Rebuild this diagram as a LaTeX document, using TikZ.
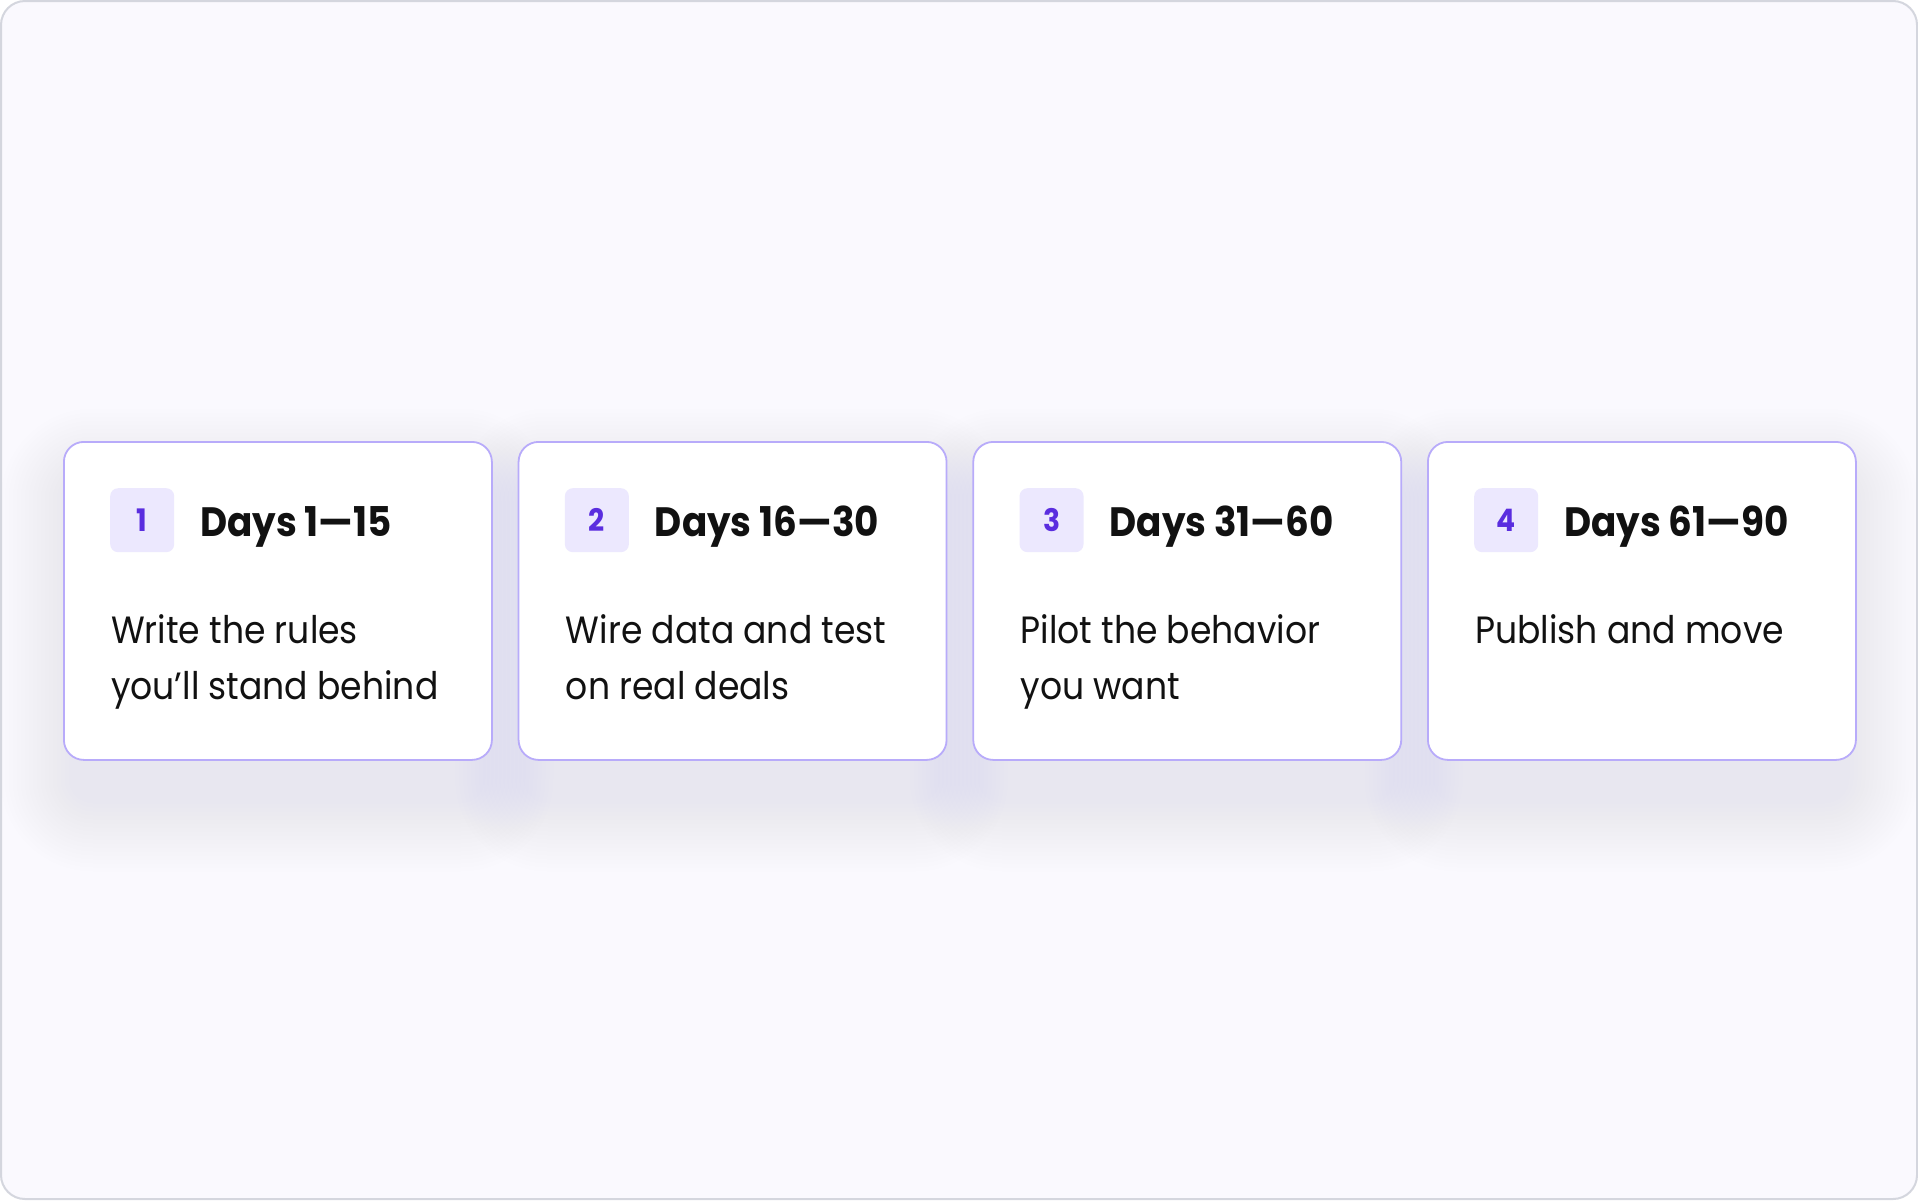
\documentclass[tikz,border=0pt]{standalone}
\usepackage{fontspec}
\setmainfont{Poppins}[FakeStretch=0.91]
\usetikzlibrary{positioning}

\definecolor{framec}{HTML}{D4D6DE}
\definecolor{pagebg}{HTML}{FAF9FE}
\definecolor{cardline}{HTML}{B8ABFA}
\definecolor{badgefill}{HTML}{ECE8FE}
\definecolor{numc}{HTML}{5A2DDF}
\definecolor{shadowc}{HTML}{D9D2F0}
\definecolor{inkc}{HTML}{111111}

\begin{document}
\begin{tikzpicture}[
  x=1pt, y=-1pt,
  card/.style={draw=cardline, line width=1.8pt, fill=white, rounded corners=20pt,
    minimum width=428pt, minimum height=318pt, inner sep=0pt, anchor=north west},
  badge/.style={fill=badgefill, rounded corners=8pt, minimum size=64pt, inner sep=0pt,
    anchor=north west, text=numc, font=\bfseries\fontsize{31}{31}\selectfont},
  title/.style={anchor=base west, inner sep=0pt, text=inkc,
    font=\bfseries\fontsize{41}{41}\selectfont},
  body/.style={anchor=base west, inner sep=0pt, text=inkc,
    font=\fontsize{38}{38}\selectfont}
  ]
\useasboundingbox (0,0) rectangle (1918,1200);
\fill[white] (0,0) rectangle (1918,1200);
\draw[framec, fill=pagebg, line width=2pt, rounded corners=24pt] (1,1) rectangle (1917,1199);

% soft shadow under the cards
\begin{scope}
\clip[rounded corners=24pt] (2,2) rectangle (1916,1198);
\foreach \i in {0,...,3}
  \foreach \k in {1,...,18}{
    \pgfmathsetmacro\x{63+454.67*\i}
    \pgfmathsetmacro\s{4*\k}
    \pgfmathsetmacro\r{20+\s}
    \fill[shadowc, opacity=0.022, rounded corners=\r pt]
      (\x-\s+10, 481-\s) rectangle (\x+418+\s, 799+\s);
  }
\end{scope}

% the four phases
\foreach \n/\days/\la/\lb [count=\i from 0] in {
  1/{1—15}/{Write the rules}/{you'll stand behind},
  2/{16—30}/{Wire data and test}/{on real deals},
  3/{31—60}/{Pilot the behavior}/{you want},
  4/{61—90}/{Publish and move}/{}}{
  \pgfmathsetmacro\x{63+454.67*\i}
  \node[card] (card\n) at (\x,441) {};
  \node[badge] (badge\n) at ([xshift=47pt, yshift=-47pt]card\n.north west) {\n};
  \node[title] (title\n) at (\x+137,536) {Days \days};
  \node[body] (body\n) at (\x+48,643) {\la};
  \node[body] (bodyb\n) at (\x+48,699) {\lb};
}
\end{tikzpicture}
\end{document}
